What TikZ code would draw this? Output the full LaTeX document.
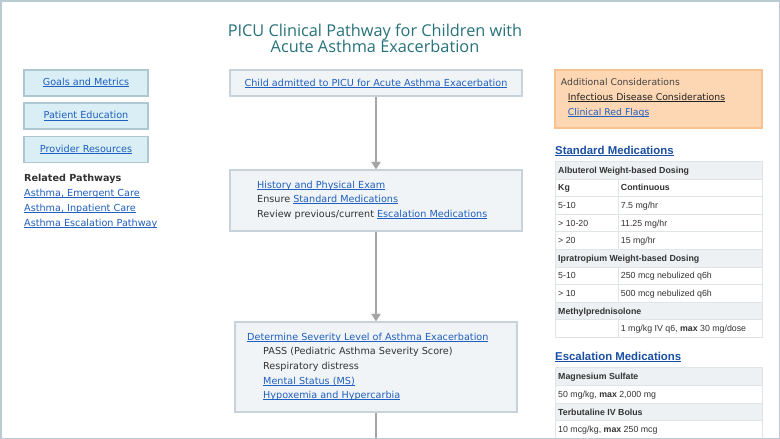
\documentclass[tikz,border=0pt]{standalone}
\usepackage{fontspec}
\setmainfont{DejaVu Sans}
\newfontfamily\titlefont{Open Sans}
\newfontfamily\arialf{Liberation Sans}
\usetikzlibrary{arrows.meta}
\definecolor{framec}{HTML}{BACAD2}
\definecolor{titlec}{HTML}{27727A}
\definecolor{linkc}{HTML}{1F5FBF}
\definecolor{headc}{HTML}{1A4FA3}
\definecolor{txtc}{HTML}{333333}
\definecolor{addc}{HTML}{444444}
\definecolor{darkc}{HTML}{222222}
\definecolor{boxfill}{HTML}{F1F4F6}
\definecolor{boxdraw}{HTML}{C8D3D9}
\definecolor{btnfill}{HTML}{D9EEF5}
\definecolor{btndraw}{HTML}{AEC8D1}
\definecolor{orfill}{HTML}{FDD6B3}
\definecolor{ordraw}{HTML}{F8C290}
\definecolor{arrc}{HTML}{A5A5A5}
\definecolor{tbline}{HTML}{DFE4E6}
\definecolor{tbhead}{HTML}{EEF1F3}
\newcommand\lnk[2][linkc]{{\color{#1}\setbox0\hbox{#2}\rlap{\rule[-1.4pt]{\wd0}{0.65pt}}\box0}}
\tikzset{
  flowbox/.style={draw=boxdraw, fill=boxfill, line width=1.2pt, inner sep=0pt},
  btnbox/.style={draw=btndraw, fill=btnfill, line width=1.2pt, inner sep=0pt, minimum width=124pt, minimum height=26pt},
  orbox/.style={draw=ordraw, fill=orfill, line width=1.2pt, inner sep=0pt},
  txt/.style={anchor=base west, inner sep=0pt, font=\fontsize{9.65}{11}\selectfont, text=txtc},
  ctxt/.style={txt, anchor=base},
  addtxt/.style={txt, font=\fontsize{9.3}{11}\selectfont},
  ttltxt/.style={anchor=base, inner sep=0pt, font=\titlefont\fontsize{16.3}{19}\selectfont, text=titlec},
  medhead/.style={anchor=base west, inner sep=0pt, font=\arialf\bfseries\fontsize{11.4}{13}\selectfont, text=headc},
  hcell/.style={draw=tbline, fill=tbhead, line width=1pt, inner sep=0pt, anchor=north west, minimum height=17.6pt},
  cell/.style={draw=tbline, fill=white, line width=1pt, inner sep=0pt, anchor=north west, minimum height=17.6pt},
  ttxt/.style={anchor=base west, inner sep=0pt, font=\arialf\fontsize{8.8}{10}\selectfont, text=txtc},
  arr/.style={draw=arrc, line width=2pt, -{Triangle[width=9pt,length=7.5pt]}},
  plainline/.style={draw=arrc, line width=2pt}
}
\newcommand\hrow[3]{%
  \node[hcell, minimum width=207pt] (#1) at (555,#2) {};
  \node[ttxt] (#1t) at (558,#2+12.3) {\bfseries #3};}
\newcommand\crow[4]{%
  \node[cell, minimum width=63.3pt] (#1a) at (555,#2) {};
  \node[cell, minimum width=143.7pt] (#1b) at (618.3,#2) {};
  \node[ttxt] (#1x) at (558,#2+12.3) {#3};
  \node[ttxt] (#1y) at (620.7,#2+12.3) {#4};}
\newcommand\frow[3]{%
  \node[cell, minimum width=207pt] (#1) at (555,#2) {};
  \node[ttxt] (#1t) at (558,#2+12.3) {#3};}
\begin{document}
\begin{tikzpicture}[x=1pt,y=-1pt]
\useasboundingbox (0,0) rectangle (780,439);
\fill[white] (0,0) rectangle (780,439);
% title
\node[ttltxt] (title1) at (375,36.7) {PICU Clinical Pathway for Children with};
\node[ttltxt] (title2) at (375,52.3) {Acute Asthma Exacerbation};
% left buttons
\node[btnbox] (goals) at (86,83) {};
\node[ctxt] (goalst) at (86,85.5) {\lnk{Goals and Metrics}};
\node[btnbox] (pated) at (86,116) {};
\node[ctxt] (patedt) at (86,118.8) {\lnk{Patient Education}};
\node[btnbox] (prov) at (86,149.5) {};
\node[ctxt] (provt) at (86,152.3) {\lnk{Provider Resources}};
\node[txt] (relh) at (24,181) {\bfseries Related Pathways};
\node[txt] (rel1) at (24,196) {\lnk{Asthma, Emergent Care}};
\node[txt] (rel2) at (24,211) {\lnk{Asthma, Inpatient Care}};
\node[txt] (rel3) at (24,226) {\lnk{Asthma Escalation Pathway}};
% flow boxes
\node[flowbox, minimum width=292pt, minimum height=26pt] (b1) at (376,83) {};
\node[ctxt] (b1t) at (376,86) {\lnk{Child admitted to PICU for Acute Asthma Exacerbation}};
\node[flowbox, minimum width=292pt, minimum height=61pt] (b2) at (376,200.5) {};
\node[txt] (b2l1) at (257,188) {\lnk{History and Physical Exam}};
\node[txt] (b2l2) at (257,202.7) {Ensure \lnk{Standard Medications}};
\node[txt] (b2l3) at (257,217.4) {Review previous/current \lnk{Escalation Medications}};
\node[flowbox, minimum width=282pt, minimum height=90pt] (b3) at (376,367) {};
\node[txt] (b3l1) at (247,340) {\lnk{Determine Severity Level of Asthma Exacerbation}};
\node[txt] (b3l2) at (263,354.5) {PASS (Pediatric Asthma Severity Score)};
\node[txt] (b3l3) at (263,369.2) {Respiratory distress};
\node[txt] (b3l4) at (263,384) {\lnk{Mental Status (MS)}};
\node[txt] (b3l5) at (263,398.7) {\lnk{Hypoxemia and Hypercarbia}};
\coordinate (bend) at (376,441);
\draw[arr] (b1.south) -- (b2.north);
\draw[arr] (b2.south) -- (b3.north);
\draw[plainline] (b3.south) -- (bend);
% additional considerations
\node[orbox, minimum width=207pt, minimum height=58pt] (addbox) at (658.5,99) {};
\node[addtxt, text=addc] (addt) at (560.7,85.7) {Additional Considerations};
\node[addtxt] (addl1) at (567.7,100.5) {\lnk[darkc]{Infectious Disease Considerations}};
\node[addtxt] (addl2) at (567.7,115.3) {\lnk{Clinical Red Flags}};
% standard medications
\node[medhead] (stdh) at (555,154) {\lnk[headc]{Standard Medications}};
\hrow{s1}{161}{Albuterol Weight-based Dosing}
\crow{s2}{178.6}{\bfseries Kg}{\bfseries Continuous}
\crow{s3}{196.2}{5-10}{7.5 mg/hr}
\crow{s4}{213.8}{> 10-20}{11.25 mg/hr}
\crow{s5}{231.4}{> 20}{15 mg/hr}
\hrow{s6}{249}{Ipratropium Weight-based Dosing}
\crow{s7}{266.6}{5-10}{250 mcg nebulized q6h}
\crow{s8}{284.2}{> 10}{500 mcg nebulized q6h}
\hrow{s9}{301.8}{Methylprednisolone}
\crow{s10}{319.4}{}{1 mg/kg IV q6, \textbf{max} 30 mg/dose}
% escalation medications
\node[medhead] (esch) at (555,360.7) {\lnk[headc]{Escalation Medications}};
\hrow{e1}{367.3}{Magnesium Sulfate}
\frow{e2}{385}{50 mg/kg, \textbf{max} 2,000 mg}
\hrow{e3}{402.7}{Terbutaline IV Bolus}
\frow{e4}{420.4}{10 mcg/kg, \textbf{max} 250 mcg}
% frame
\draw[framec, line width=1.5pt] (0.75,0.75) rectangle (779.25,438.25);
\end{tikzpicture}
\end{document}
